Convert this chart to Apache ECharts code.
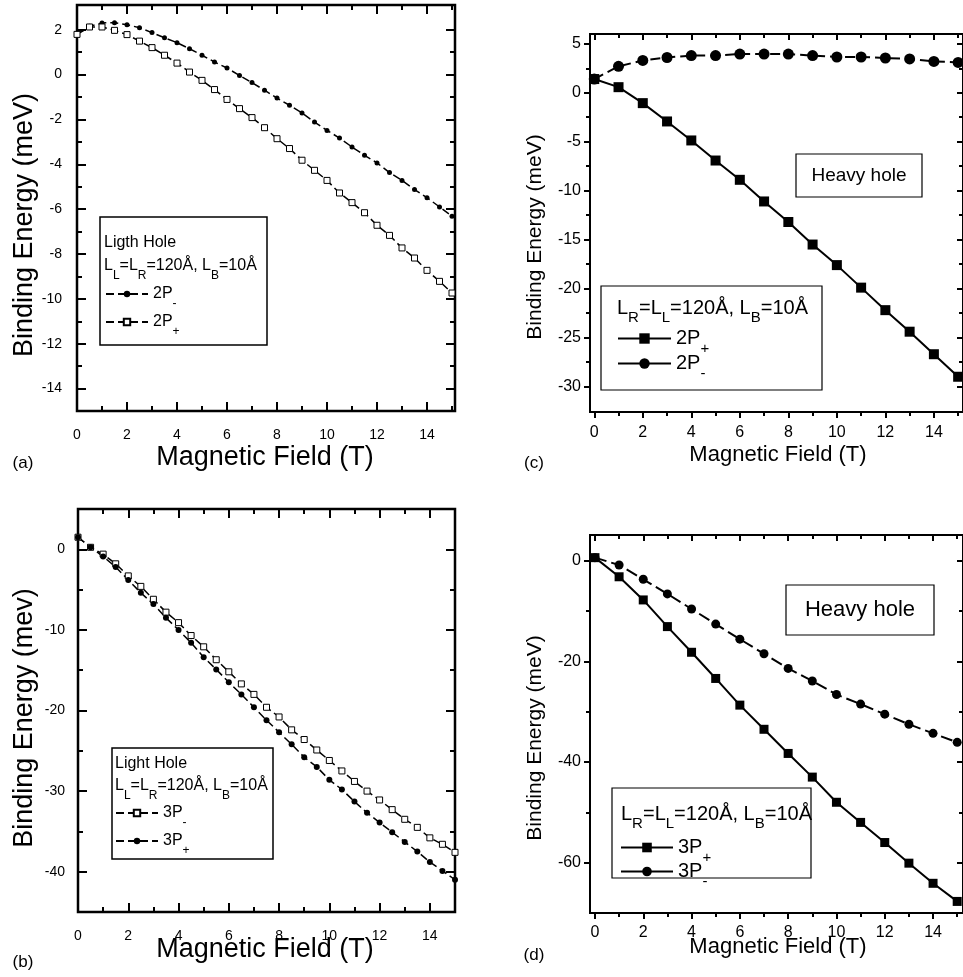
<!DOCTYPE html>
<html>
<head>
<meta charset="utf-8">
<script src="https://cdn.jsdelivr.net/npm/echarts@6/dist/echarts.min.js"></script>
<style>
  html, body { margin: 0; padding: 0; background: #fff; }
  #chart { width: 963px; height: 977px; }
</style>
</head>
<body>
<div id="chart"></div>
<script>
const FONT = '"Liberation Sans", Arial, Helvetica, sans-serif';

// magnetic field values (T)
const fieldHalf = [0, 0.5, 1, 1.5, 2, 2.5, 3, 3.5, 4, 4.5, 5, 5.5, 6, 6.5, 7, 7.5,
  8, 8.5, 9, 9.5, 10, 10.5, 11, 11.5, 12, 12.5, 13, 13.5, 14, 14.5, 15];
const fieldInt = [0, 1, 2, 3, 4, 5, 6, 7, 8, 9, 10, 11, 12, 13, 14, 15];

// (a) light hole, 2P states (meV)
const a2Pminus = [1.8, 2.15, 2.3, 2.31, 2.22, 2.09, 1.87, 1.64, 1.42, 1.15, 0.86, 0.56, 0.29, -0.04,
  -0.36, -0.70, -1.05, -1.37, -1.71, -2.12, -2.49, -2.83, -3.23, -3.60, -3.94, -4.37, -4.72,
  -5.13, -5.49, -5.90, -6.32];
const a2Pplus = [1.79, 2.12, 2.12, 1.97, 1.78, 1.49, 1.20, 0.86, 0.51, 0.11, -0.26, -0.67, -1.11,
  -1.52, -1.92, -2.37, -2.86, -3.30, -3.82, -4.27, -4.72, -5.28, -5.71, -6.16, -6.72, -7.17,
  -7.73, -8.18, -8.73, -9.22, -9.74];

// (b) light hole, 3P states
const b3Pminus = [1.5, 0.25, -0.6, -1.8, -3.3, -4.6, -6.2, -7.8, -9.1, -10.7, -12.1, -13.7, -15.2,
  -16.7, -18.0, -19.6, -20.8, -22.4, -23.6, -24.9, -26.2, -27.5, -28.8, -30.0, -31.1, -32.3,
  -33.5, -34.5, -35.8, -36.6, -37.6];
const b3Pplus = [1.5, 0.25, -0.9, -2.2, -3.8, -5.4, -6.8, -8.5, -10.0, -11.6, -13.4, -14.9, -16.5,
  -18.0, -19.6, -21.2, -22.7, -24.2, -25.8, -27.0, -28.6, -29.8, -31.3, -32.7, -33.9, -35.1,
  -36.3, -37.5, -38.8, -39.9, -41.0];

// (c) heavy hole, 2P states
const c2Pplus = [1.4, 0.57, -1.06, -2.93, -4.87, -6.92, -8.89, -11.1, -13.2, -15.5, -17.6, -19.9,
  -22.2, -24.4, -26.7, -29.0];
const c2Pminus = [1.4, 2.7, 3.3, 3.6, 3.8, 3.8, 3.95, 3.95, 3.95, 3.8, 3.65, 3.65, 3.55, 3.45, 3.2, 3.1];

// (d) heavy hole, 3P states
const d3Pplus = [0.6, -3.2, -7.8, -13.1, -18.2, -23.4, -28.7, -33.5, -38.3, -43.0, -48.0, -52.0,
  -56.0, -60.1, -64.1, -67.7];
const d3Pminus = [0.6, -0.86, -3.7, -6.6, -9.6, -12.6, -15.6, -18.5, -21.4, -23.9, -26.6, -28.5,
  -30.5, -32.5, -34.3, -36.1];

// tick values
const xMajor = [0, 2, 4, 6, 8, 10, 12, 14];
const xMinor = [1, 3, 5, 7, 9, 11, 13, 15];
const aYMajor = [-14, -12, -10, -8, -6, -4, -2, 0, 2];
const aYMinor = [-13, -11, -9, -7, -5, -3, -1, 1];
const bYMajor = [-40, -30, -20, -10, 0];
const bYMinor = [-35, -25, -15, -5];
const cYMajor = [-30, -25, -20, -15, -10, -5, 0, 5];
const cYMinor = [-27.5, -22.5, -17.5, -12.5, -7.5, -2.5, 2.5];
const dYMajor = [-60, -40, -20, 0];
const dYMinor = [-50, -30, -10];

const pairs = (xs, ys) => xs.map((x, i) => [x, ys[i]]);

const xAxes = [];
const yAxes = [];

// every panel gets a closed frame: labelled bottom/left axes, bare top/right mirrors,
// plus extra axes that only carry the short minor ticks
function addFrame(g, p) {
  const tick = (vals, len, inside) => ({
    show: true, inside: inside, length: len, customValues: vals,
    lineStyle: { color: '#000', width: p.tickWidth }
  });
  const base = (min, max, pos) => ({
    type: 'value', gridIndex: g, min: min, max: max, position: pos,
    axisLine: { show: false, onZero: false }, splitLine: { show: false }
  });
  const lab = (vals, margin) => ({
    show: true, customValues: vals, margin: margin,
    color: '#000', fontFamily: FONT, fontSize: p.labelSize
  });
  const xi = xAxes.length;
  xAxes.push(Object.assign(base(p.xMin, p.xMax, 'bottom'), {
    axisTick: tick(xMajor, p.major, p.inside), axisLabel: lab(xMajor, p.xMargin)
  }));
  xAxes.push(Object.assign(base(p.xMin, p.xMax, 'bottom'), {
    axisTick: tick(xMinor, p.minor, p.inside), axisLabel: { show: false }
  }));
  xAxes.push(Object.assign(base(p.xMin, p.xMax, 'top'), {
    axisTick: tick(xMajor, p.major, true), axisLabel: { show: false }
  }));
  xAxes.push(Object.assign(base(p.xMin, p.xMax, 'top'), {
    axisTick: tick(xMinor, p.minor, true), axisLabel: { show: false }
  }));
  const yi = yAxes.length;
  yAxes.push(Object.assign(base(p.yMin, p.yMax, 'left'), {
    axisTick: tick(p.yMajor, p.major, p.inside), axisLabel: lab(p.yMajor, p.yMargin)
  }));
  yAxes.push(Object.assign(base(p.yMin, p.yMax, 'left'), {
    axisTick: tick(p.yMinor, p.minor, p.inside), axisLabel: { show: false }
  }));
  yAxes.push(Object.assign(base(p.yMin, p.yMax, 'right'), {
    axisTick: tick(p.yMajor, p.major, true), axisLabel: { show: false }
  }));
  yAxes.push(Object.assign(base(p.yMin, p.yMax, 'right'), {
    axisTick: tick(p.yMinor, p.minor, true), axisLabel: { show: false }
  }));
  return { x: xi, y: yi };
}

const grids = [
  { left: 77, top: 5, width: 378, height: 406 },
  { left: 78, top: 509, width: 377, height: 403 },
  { left: 590, top: 34, width: 376, height: 378 },
  { left: 590, top: 535, width: 376, height: 378 }
].map((g, i) => Object.assign({
  show: true, borderColor: '#000', borderWidth: i < 2 ? 2.5 : 2, backgroundColor: 'transparent'
}, g));

const axA = addFrame(0, { xMin: 0, xMax: 15.12, yMin: -15, yMax: 3.1, yMajor: aYMajor, yMinor: aYMinor,
  major: 9, minor: 5, inside: true, tickWidth: 2, labelSize: 14, xMargin: 17, yMargin: 15 });
const axB = addFrame(1, { xMin: 0, xMax: 15, yMin: -45, yMax: 5, yMajor: bYMajor, yMinor: bYMinor,
  major: 9, minor: 5, inside: true, tickWidth: 2, labelSize: 14, xMargin: 17, yMargin: 13 });
const axC = addFrame(2, { xMin: -0.176, xMax: 15.2, yMin: -32.6, yMax: 6, yMajor: cYMajor, yMinor: cYMinor,
  major: 6, minor: 4, inside: false, tickWidth: 2, labelSize: 16, xMargin: 13, yMargin: 9 });
const axD = addFrame(3, { xMin: -0.205, xMax: 15.24, yMin: -70, yMax: 5.1, yMajor: dYMajor, yMinor: dYMinor,
  major: 6, minor: 4, inside: false, tickWidth: 2, labelSize: 16, xMargin: 12, yMargin: 9 });

function lineSeries(name, ax, data, sym, size, filled, dash, width) {
  return {
    name: name, type: 'line', xAxisIndex: ax.x, yAxisIndex: ax.y, data: data,
    symbol: sym, symbolSize: size, showSymbol: true, animation: false,
    itemStyle: filled ? { color: '#000' } : { color: '#fff', borderColor: '#000', borderWidth: 1 },
    lineStyle: { color: '#000', width: width, type: dash }
  };
}

const series = [
  lineSeries('a2P-', axA, pairs(fieldHalf, a2Pminus), 'circle', 5, true, [8, 4], 1.5),
  lineSeries('a2P+', axA, pairs(fieldHalf, a2Pplus), 'rect', 6, false, [8, 4], 1.5),
  lineSeries('b3P-', axB, pairs(fieldHalf, b3Pminus), 'rect', 6, false, [8, 4], 1.5),
  lineSeries('b3P+', axB, pairs(fieldHalf, b3Pplus), 'circle', 6, true, [8, 4], 1.5),
  lineSeries('c2P+', axC, pairs(fieldInt, c2Pplus), 'rect', 10, true, 'solid', 2),
  lineSeries('c2P-', axC, pairs(fieldInt, c2Pminus), 'circle', 11, true, [10, 5], 2),
  lineSeries('d3P+', axD, pairs(fieldInt, d3Pplus), 'rect', 9, true, 'solid', 2),
  lineSeries('d3P-', axD, pairs(fieldInt, d3Pminus), 'circle', 9, true, [12, 5], 2)
];

// legend label text with sub-scripts
const legendText = {
  'a2P-': '2P{s|-}', 'a2P+': '2P{s|+}', 'b3P-': '3P{s|-}', 'b3P+': '3P{s|+}',
  'c2P+': '2P{s|+}', 'c2P-': '2P{s|-}', 'd3P+': '3P{s|+}', 'd3P-': '3P{s|-}'
};

function legendBlock(names, left, top, itemWidth, itemHeight, gap, fs, solid) {
  const l = {
    data: names, orient: 'vertical', left: left, top: top, padding: 0, z: 5,
    itemWidth: itemWidth, itemHeight: itemHeight, itemGap: gap, selectedMode: false,
    formatter: n => legendText[n],
    textStyle: {
      color: '#000', fontFamily: FONT, fontSize: fs, lineHeight: 20,
      rich: { s: { fontSize: Math.round(fs * 0.75), fontFamily: FONT, lineHeight: 20, padding: [20, 0, 0, 0] } }
    }
  };
  if (solid) l.lineStyle = { type: 'solid' };
  return l;
}

const legends = [
  legendBlock(['a2P-', 'a2P+'], 105, 278, 42, 8, -4, 16, false),
  legendBlock(['b3P-', 'b3P+'], 115, 797, 42, 8, -4, 16, false),
  legendBlock(['c2P+', 'c2P-'], 617, 321, 53, 13, -10, 20, true),
  legendBlock(['d3P+', 'd3P-'], 620, 830, 52, 12, -11, 20, true)
];

function txt(text, x, y, size, opts) {
  return Object.assign({
    type: 'text', x: x, y: y, silent: true, z: 10,
    style: Object.assign({
      text: text, fill: '#000', fontFamily: FONT, fontSize: size,
      align: 'center', verticalAlign: 'middle'
    }, (opts && opts.style) || {})
  }, (opts && opts.el) || {});
}
const vtxt = (text, x, y, size) => txt(text, x, y, size, { el: { rotation: Math.PI / 2 } });
const subTxt = (text, x, y, size) => txt(text, x, y, size, { style: {
  align: 'left', lineHeight: 20,
  rich: { s: { fontSize: Math.round(size * 0.75), fontFamily: FONT, lineHeight: 20, padding: [20, 0, 0, 0] } }
} });
const box = (x1, y1, x2, y2, w) => ({
  type: 'rect', silent: true, z: 1, shape: { x: x1, y: y1, width: x2 - x1, height: y2 - y1 },
  style: { fill: 'none', stroke: '#000', lineWidth: w }
});

const graphic = [
  // axis titles
  vtxt('Binding Energy (meV)', 25, 225, 27),
  txt('Magnetic Field (T)', 265, 458, 27),
  txt('(a)', 23, 463, 17),
  vtxt('Binding Energy (mev)', 25, 718, 27),
  txt('Magnetic Field (T)', 265, 950, 27),
  txt('(b)', 23, 962, 17),
  vtxt('Binding Energy (meV)', 535, 237, 21),
  txt('Magnetic Field (T)', 778, 455, 22),
  txt('(c)', 534, 463, 17),
  vtxt('Binding Energy (meV)', 535, 738, 21),
  txt('Magnetic Field (T)', 778, 947, 22),
  txt('(d)', 534, 955, 17),
  // legend frames and headers
  box(100, 217, 267, 345, 1.5),
  subTxt('Ligth Hole', 104, 243, 16),
  subTxt('L{s|L}=L{s|R}=120Å, L{s|B}=10Å', 104, 266, 16),
  box(112, 748, 273, 859, 1.5),
  subTxt('Light Hole', 115, 764, 16),
  subTxt('L{s|L}=L{s|R}=120Å, L{s|B}=10Å', 115, 786, 16),
  box(601, 286, 822, 390, 1.2),
  subTxt('L{s|R}=L{s|L}=120Å, L{s|B}=10Å', 617, 308, 20),
  box(612, 788, 811, 878, 1.2),
  subTxt('L{s|R}=L{s|L}=120Å, L{s|B}=10Å', 621, 814, 20),
  // "Heavy hole" tags
  box(796, 154, 922, 197, 1.2),
  txt('Heavy hole', 859, 176, 19),
  box(786, 585, 934, 635, 1.2),
  txt('Heavy hole', 860, 610, 22)
];

const chart = echarts.init(document.getElementById('chart'), null, { renderer: 'canvas' });
chart.setOption({
  backgroundColor: '#fff',
  animation: false,
  grid: grids,
  xAxis: xAxes,
  yAxis: yAxes,
  legend: legends,
  graphic: graphic,
  series: series
});
</script>
</body>
</html>
